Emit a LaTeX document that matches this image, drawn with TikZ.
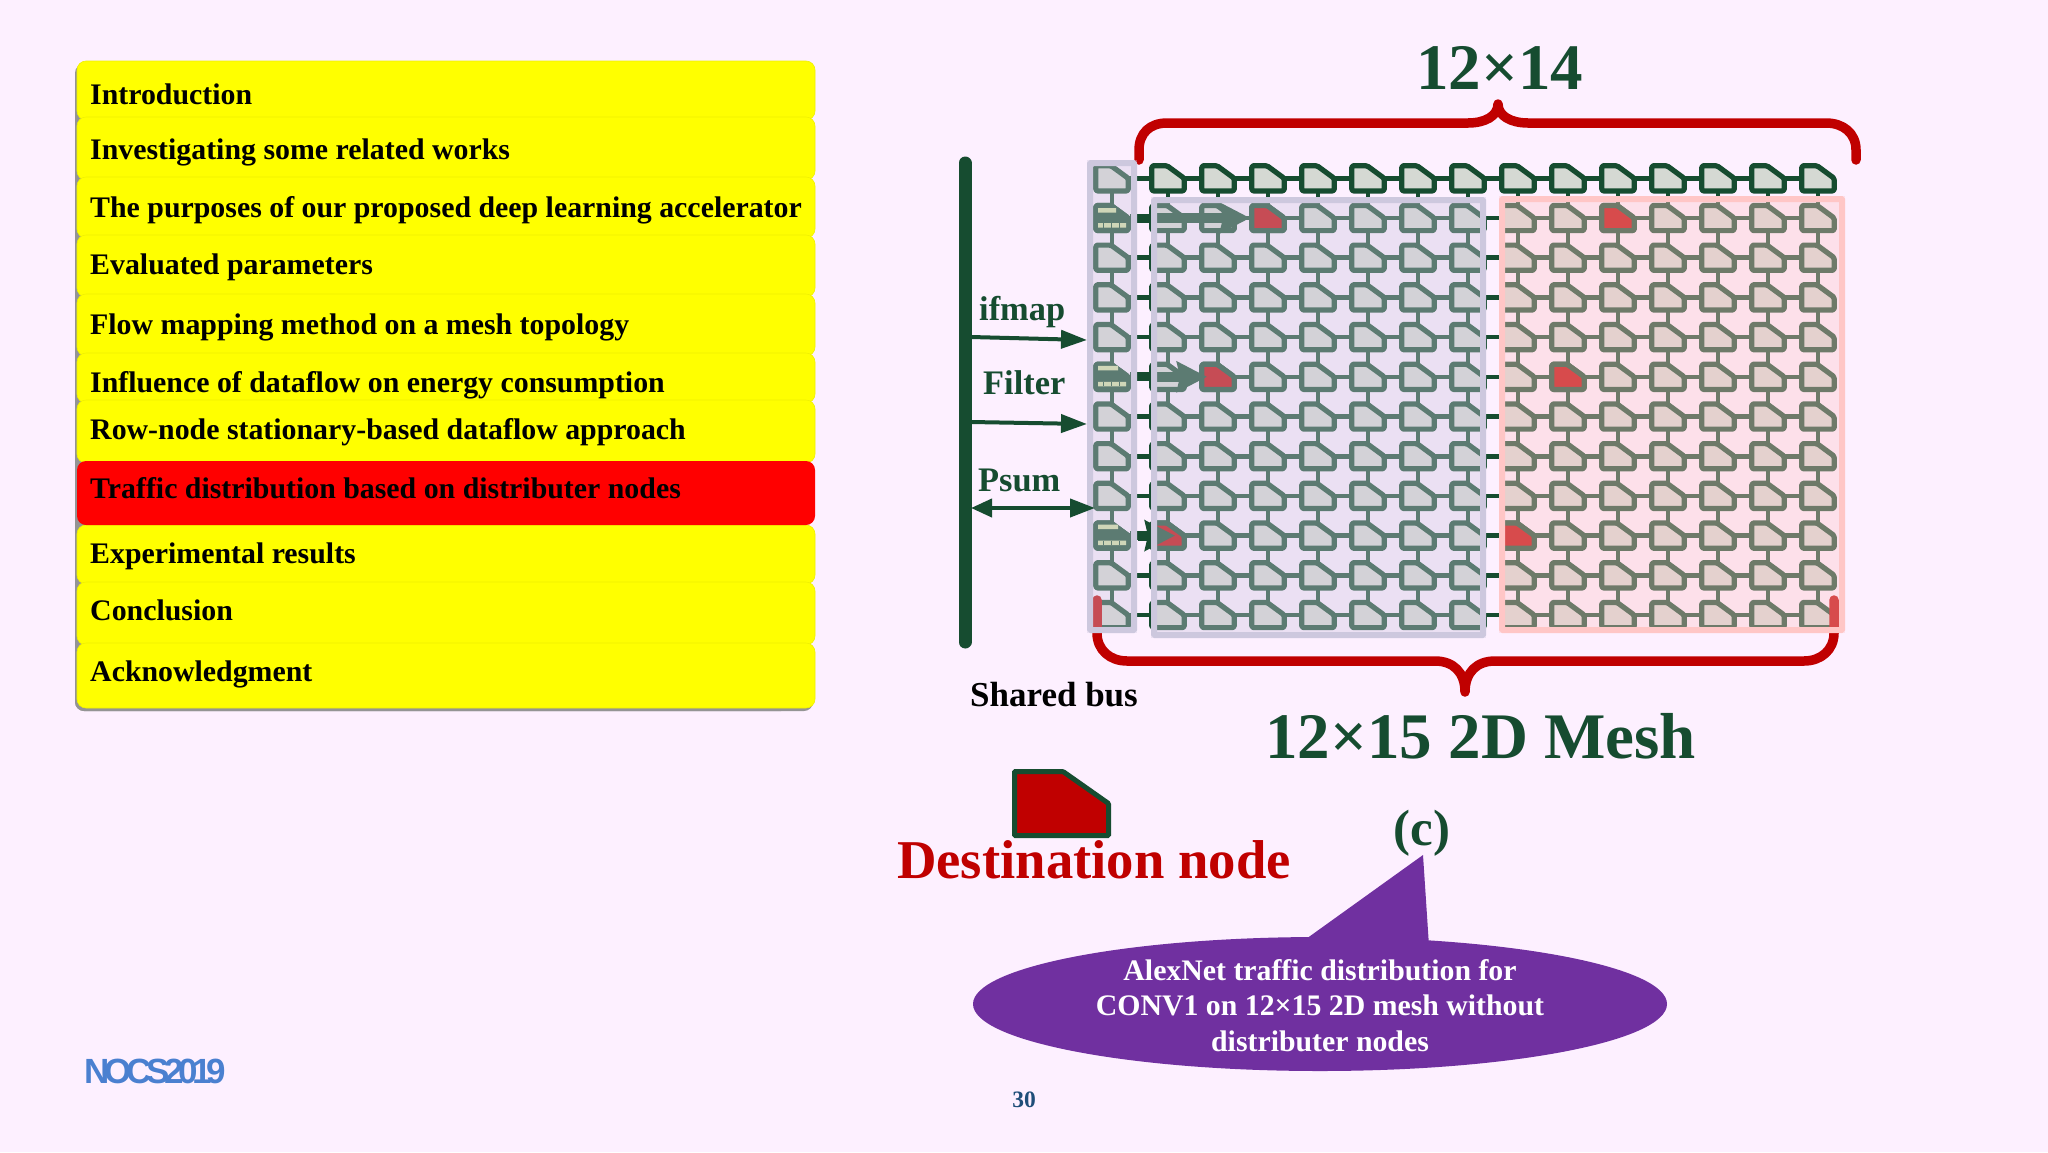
\documentclass[tikz,border=0pt]{standalone}
\usepackage{fontspec}
\setmainfont{Liberation Serif}
\newfontfamily\logofont[LetterSpace=-15]{Liberation Sans}
\usetikzlibrary{arrows.meta,calc}
\definecolor{pagebg}{HTML}{FDF0FF}
\definecolor{dgreen}{HTML}{164C30}
\definecolor{brred}{HTML}{C00000}
\definecolor{pefill}{HTML}{D5D9D3}
\definecolor{lavov}{HTML}{D0C8E0}
\definecolor{lavbd}{HTML}{CDC8DE}
\definecolor{pinkov}{HTML}{FFC6C8}
\definecolor{pinkbd}{HTML}{FFC6C6}
\definecolor{ylw}{HTML}{FFFF00}
\definecolor{stripe}{HTML}{CFE0A0}
\definecolor{purp}{HTML}{7030A0}
\definecolor{logoblue}{HTML}{4A80D0}
\definecolor{pageno}{HTML}{1F4E79}
\tikzset{
  petile/.style={draw=dgreen,fill=pefill,line width=5.2pt,rounded corners=1.5pt,line join=round},
  petarget/.style={petile,fill=brred},
  pesource/.style={petile,fill=dgreen},
  wire/.style={draw=dgreen,line width=4.6pt},
  fatwire/.style={draw=dgreen,line width=10pt,-{Stealth[length=30pt,width=30pt,inset=3pt]}},
  stubwire/.style={draw=dgreen,line width=9pt},
  bracket/.style={draw=brred,line width=9.5pt,line cap=round,line join=round},
  busline/.style={draw=dgreen,line width=13pt,line cap=round},
  feed/.style={draw=dgreen,line width=4pt,-{Triangle[length=26pt,width=18pt]}},
  feedboth/.style={draw=dgreen,line width=4pt,{Triangle[length=21pt,width=18pt]}-{Triangle[length=25pt,width=18pt]}},
  item/.style={fill=ylw,draw=ylw!94!black,line width=.6pt,rounded corners=9pt},
  itemtxt/.style={anchor=base west,inner sep=0pt,font=\fontsize{29.85}{36}\selectfont\bfseries,text=black},
  busl/.style={anchor=base west,inner sep=0pt,font=\fontsize{34.4}{40}\selectfont\bfseries,text=dgreen},
  bigl/.style={anchor=base west,inner sep=0pt,font=\fontsize{65}{70}\selectfont\bfseries,text=dgreen},
  calltxt/.style={anchor=base,inner sep=0pt,font=\fontsize{29.8}{36}\selectfont\bfseries,text=white}
}
\newcommand{\PEtile}[2]{\path[#1,shift={(#2)}] (-16.2,-12.6) -- (-1,-12.6) -- (16.2,0) -- (16.2,12.6) -- (-16.2,12.6) -- cycle;}
\newcommand{\stripes}[5]{% node, y1, len1, y2, len2
  \fill[stripe,shift={(#1)}] (-14,#2) rectangle ++(#3,4.5) (-14,#4) rectangle ++(#5,4.5);
  \foreach \tx in {-9,-1,7}{\fill[dgreen,shift={(#1)}] (\tx,#4) rectangle ++(1.2,4.5);}
}
\begin{document}
\begin{tikzpicture}[x=1pt,y=-1pt]
\useasboundingbox (0,0) rectangle (2048,1152);
\fill[pagebg] (0,0) rectangle (2048,1152);

% ---- agenda list
\fill[black!42,rounded corners=9pt] (75,64) rectangle (790,711);
\fill[black!42,rounded corners=9pt] (75,660) rectangle (813,711);
\foreach \ya/\yb in {61/120,117/180,177/238,235/297,294/356,353/403,400/463}{
  \path[item] (77,\ya) rectangle (815,\yb);
}
\foreach \ya/\yb in {525/584,582/645,643/708}{
  \path[item] (77,\ya) rectangle (815,\yb);
}
\path[fill=red,rounded corners=9pt] (77,461) rectangle (815,525);
\node[itemtxt] (t1) at (90,104) {Introduction};
\node[itemtxt] (t2) at (90,159) {Investigating some related works};
\node[itemtxt] (t3) at (90,217) {The purposes of our proposed deep learning accelerator};
\node[itemtxt] (t4) at (90,274) {Evaluated parameters};
\node[itemtxt] (t5) at (90,334) {Flow mapping method on a mesh topology};
\node[itemtxt] (t6) at (90,392) {Influence of dataflow on energy consumption};
\node[itemtxt] (t7) at (90,439) {Row-node stationary-based dataflow approach};
\node[itemtxt] (t8) at (90,498) {Traffic distribution based on distributer nodes};
\node[itemtxt] (t9) at (90,563) {Experimental results};
\node[itemtxt] (t10) at (90,620) {Conclusion};
\node[itemtxt] (t11) at (90,681) {Acknowledgment};

% ---- mesh coordinates
\foreach \r in {0,...,11}{
  \pgfmathsetmacro{\cy}{178.3+39.7*\r}
  \coordinate (p-\r-0) at (1112,\cy);
  \foreach \c in {1,...,14}{
    \pgfmathsetmacro{\cx}{1168+50*(\c-1)}
    \coordinate (p-\r-\c) at (\cx,\cy);
  }
}
% ---- wires
\foreach \r in {0,...,11}{
  \foreach \c [evaluate=\c as \n using int(\c+1)] in {0,...,13}{
    \path[wire] (p-\r-\c) -- (p-\r-\n);
  }
}
\foreach \c in {0,...,14}{
  \foreach \r [evaluate=\r as \n using int(\r+1)] in {0,...,10}{
    \path[wire] (p-\r-\c) -- (p-\n-\c);
  }
}
% ---- tiles
\foreach \r in {0,...,11}{
  \foreach \c in {0,...,14}{
    \PEtile{petile}{p-\r-\c}
  }
}
\PEtile{petarget}{p-1-3}
\PEtile{petarget}{p-1-10}
\PEtile{petarget}{p-5-2}
\PEtile{petarget}{p-5-9}
\PEtile{petarget}{p-9-1}
\PEtile{petarget}{p-9-8}
\PEtile{pesource}{p-1-0}
\PEtile{pesource}{p-5-0}
\PEtile{pesource}{p-9-0}
\stripes{p-1-0}{-10}{18}{5}{28}
\stripes{p-5-0}{-11}{20}{5}{28}
\stripes{p-9-0}{-11}{20}{5}{28}
% ---- traffic arrows
\path[stubwire] (p-1-0) ++(18,0) -- ++(20,0);
\path[stubwire] (p-5-0) ++(18,0) -- ++(20,0);
\path[stubwire] (p-9-0) ++(18,0) -- ++(20,0);
\path (p-1-1) ++(-18,0) coordinate (a1) (p-1-3) ++(-18,0) coordinate (b1);
\path[fatwire] (a1) -- (b1);
\path (p-5-1) ++(-18,0) coordinate (a5) (p-5-2) ++(-11,0) coordinate (b5);
\path[fatwire] (a5) -- (b5);
\path (p-9-1) ++(-30,0) coordinate (a9) (p-9-1) ++(7,0) coordinate (b9);
\path[fatwire] (a9) -- (b9);

% ---- brackets
\coordinate (brl) at (1097,600);
\coordinate (brr) at (1834,600);
\coordinate (brt) at (1465,692);
\path[bracket] (brl) -- (1097,633) .. controls (1097,650) and (1110,661) .. (1127,661)
  -- (1435,661) .. controls (1453,661) and (1465,672) .. (brt)
  .. controls (1465,672) and (1477,661) .. (1495,661)
  -- (1804,661) .. controls (1821,661) and (1834,650) .. (1834,633) -- (brr);
\coordinate (tl) at (1139,160);
\coordinate (tr) at (1856,160);
\coordinate (tt) at (1498,104);
\path[bracket] (tl) -- (1139,150) .. controls (1139,133) and (1150,123) .. (1167,123)
  -- (1468,123) .. controls (1485,123) and (1498,116) .. (tt)
  .. controls (1498,116) and (1511,123) .. (1528,123)
  -- (1826,123) .. controls (1843,123) and (1856,133) .. (1856,150) -- (tr);

% ---- translucent regions
\fill[lavov,opacity=.38] (1087,160) rectangle (1137,633);
\fill[lavov,opacity=.38] (1151,197) rectangle (1486,638);
\fill[pinkov,opacity=.38] (1499,196) rectangle (1845,633);
\draw[lavbd,line width=6pt,rounded corners=1pt] (1090,163) rectangle (1134,630);
\draw[lavbd,line width=6pt,rounded corners=1pt] (1154,200) rectangle (1483,635);
\draw[pinkbd,line width=6pt,rounded corners=1pt] (1502,199) rectangle (1842,630);

% ---- shared bus
\coordinate (bustop) at (965,163);
\coordinate (busbot) at (965,642);
\path[busline] (bustop) -- (busbot);
\coordinate (f1a) at (971,337); \coordinate (f1b) at (1087,340);
\coordinate (f2a) at (971,422); \coordinate (f2b) at (1087,424);
\coordinate (f3a) at (971,508); \coordinate (f3b) at (1095,508);
\path[feed] (f1a) -- (f1b);
\path[feed] (f2a) -- (f2b);
\path[feedboth] (f3a) -- (f3b);

% ---- labels
\node[busl] (ifm) at (979,320) {ifmap};
\node[busl] (fil) at (983,394) {Filter};
\node[busl] (psm) at (978,491) {Psum};
\node[anchor=base west,inner sep=0pt,font=\fontsize{35}{40}\selectfont\bfseries,text=black] (shb) at (970,706) {Shared bus};
\node[bigl] (tt14) at (1416,89) {12×14};
\node[bigl] (tt15) at (1265,758) {12×15 2D Mesh};

% ---- destination legend
\coordinate (leg) at (1061.5,803.5);
\draw[fill=brred,draw=dgreen,line width=5pt,shift={(leg)},rounded corners=1pt] (-47,-32) -- (1.5,-32) -- (47,0) -- (47,32) -- (-47,32) -- cycle;
\node[anchor=base west,inner sep=0pt,font=\fontsize{54.7}{60}\selectfont\bfseries,text=brred] (dest) at (897,878) {Destination node};
\node[anchor=base,inner sep=0pt,font=\fontsize{51}{54}\selectfont\bfseries,text=dgreen] (cc) at (1422,845) {(c)};

% ---- callout
\fill[purp] (1320,1004) ellipse [x radius=347,y radius=67];
\coordinate (ca) at (1299,944);
\coordinate (cb) at (1423,855);
\coordinate (cd) at (1429,946);
\fill[purp] (ca) -- (cb) -- (cd) -- cycle;
\node[calltxt] (c1) at (1320,980) {AlexNet traffic distribution for};
\node[calltxt] (c2) at (1320,1015) {CONV1 on 12×15 2D mesh without};
\node[calltxt] (c3) at (1320,1051) {distributer nodes};

% ---- footer
\node[anchor=base west,inner sep=0pt,font=\logofont\fontsize{35}{40}\selectfont\bfseries,text=logoblue] (logo) at (84,1083) {NOCS2019};
\node[anchor=base,inner sep=0pt,font=\fontsize{23.5}{28}\selectfont\bfseries,text=pageno] (pg) at (1024,1107) {30};
\end{tikzpicture}
\end{document}
